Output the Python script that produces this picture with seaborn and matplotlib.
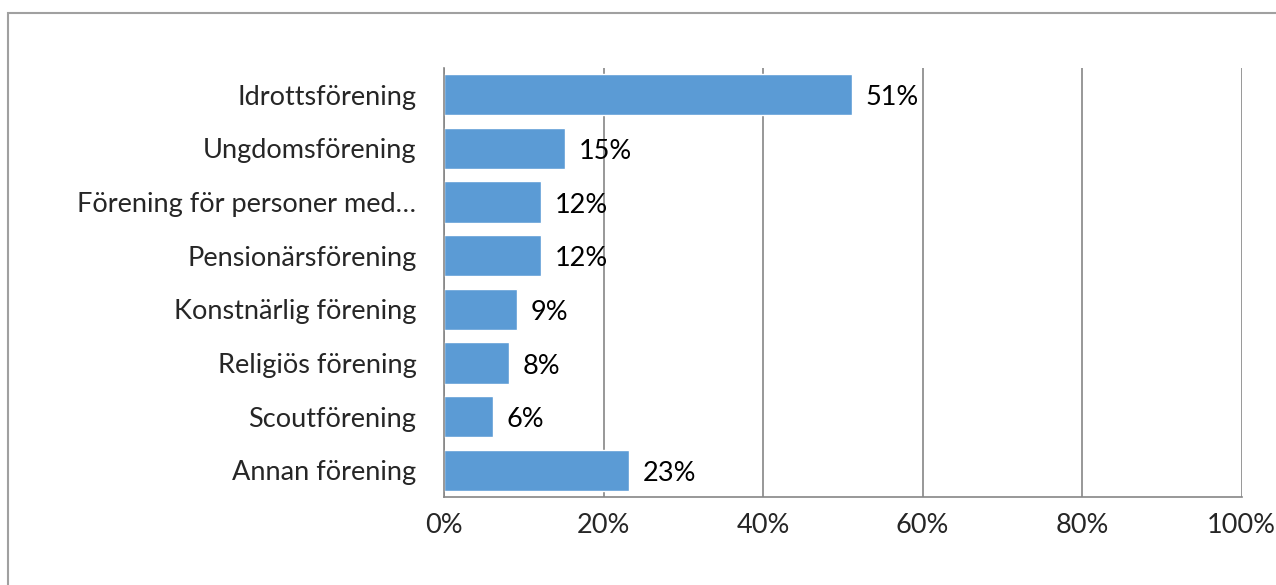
import numpy as np
import pandas as pd
import matplotlib
matplotlib.use("Agg")
import matplotlib.pyplot as plt
import seaborn as sns
from matplotlib.patches import Rectangle

categories = ["Idrottsförening", "Ungdomsförening", "Förening för personer med…",
              "Pensionärsförening", "Konstnärlig förening", "Religiös förening",
              "Scoutförening", "Annan förening"]
values = [51.2, 15.2, 12.2, 12.2, 9.1, 8.1, 6.1, 23.2]
x_ticks = [0, 20, 40, 60, 80, 100]

sns.set_style("white")
plt.rcParams["font.family"] = ["Lato", "DejaVu Sans"]
FS = 19.5

df = pd.DataFrame({"Kategori": categories, "Andel": values})

fig = plt.figure(figsize=(12.76, 5.85), dpi=100)
ax = fig.add_axes([0.348, 0.150, 0.625, 0.734])

sns.barplot(data=df, x="Andel", y="Kategori", color="#5B9BD5", saturation=1,
            width=0.77, ax=ax)

for i, v in enumerate(values):
    ax.text(v + 1.7, i + 0.06, f"{v:.0f}%", va="center", ha="left", fontsize=FS, color="black")

ax.set_xlim(0, 100)
ax.set_ylim(len(categories) - 0.5, -0.5)
ax.set_xticks(x_ticks)
ax.set_xticklabels([f"{t}%" for t in x_ticks], fontsize=FS)
ax.set_yticks(np.arange(len(categories)))
ax.set_yticklabels(categories, fontsize=FS)
ax.set_xlabel("")
ax.set_ylabel("")

# gridlines
ax.xaxis.grid(True, color="#868686", linewidth=1.2)
ax.set_axisbelow(True)

# ticks at category boundaries
ax.set_yticks(np.arange(len(categories) + 1) - 0.5, minor=True)
ax.tick_params(axis="y", which="major", length=0, pad=20)
ax.tick_params(axis="y", which="minor", length=5, color="#868686", width=1.2)
ax.tick_params(axis="x", which="major", length=5, color="#868686", width=1.2, pad=6)

for side in ["top", "right"]:
    ax.spines[side].set_visible(False)
for side in ["left", "bottom"]:
    ax.spines[side].set_color("#868686")
    ax.spines[side].set_linewidth(1.2)

# chart frame
fig.patches.append(Rectangle((8 / 1276, -0.1), 1.2, 1 - 12.5 / 585 + 0.1,
                             transform=fig.transFigure, fill=False,
                             edgecolor="#A0A0A0", linewidth=1.5))

fig.savefig("out.png", dpi=100)
